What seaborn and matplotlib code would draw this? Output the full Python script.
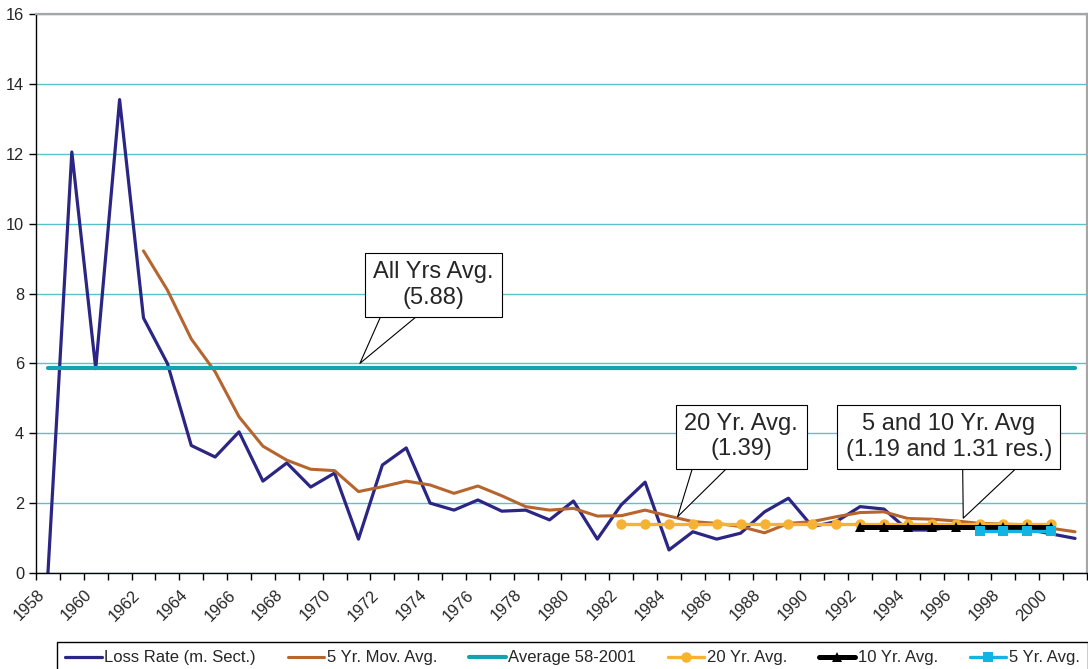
import matplotlib
matplotlib.use("Agg")
import matplotlib.pyplot as plt
import matplotlib.transforms as mtransforms
import seaborn as sns
import numpy as np

sns.set_style("white")
plt.rcParams['font.family'] = ['Liberation Sans', 'DejaVu Sans']

# data
years = list(range(1958, 2002))
loss_rate = [0.0, 12.05, 5.85, 13.55, 7.3, 6.0, 3.65, 3.32, 4.04, 2.63,
             3.15, 2.46, 2.86, 0.97, 3.09, 3.58, 2.0, 1.8, 2.09, 1.77,
             1.8, 1.52, 2.06, 0.97, 1.95, 2.6, 0.66, 1.18, 0.97, 1.14,
             1.75, 2.14, 1.33, 1.47, 1.9, 1.83, 1.23, 1.23, 1.35, 1.3,
             1.28, 1.25, 1.12, 0.99]
mov_avg_years = list(range(1962, 2002))
mov_avg_5 = [9.22, 8.1, 6.7, 5.76, 4.47, 3.63, 3.23, 2.97, 2.93, 2.33,
             2.47, 2.63, 2.52, 2.28, 2.49, 2.21, 1.9, 1.8, 1.85, 1.63,
             1.64, 1.8, 1.63, 1.47, 1.42, 1.33, 1.15, 1.42, 1.47, 1.61,
             1.73, 1.75, 1.56, 1.54, 1.49, 1.42, 1.4, 1.38, 1.28, 1.18]
avg_all = 5.88
avg_20_years = list(range(1982, 2001))
avg_20 = 1.39
avg_10_years = list(range(1992, 2001))
avg_10 = 1.31
avg_5_years = list(range(1997, 2001))
avg_5 = 1.19

fig = plt.figure(figsize=(10.88, 6.69), dpi=100)
ax = fig.add_axes([36 / 1088, 96 / 669, 1051 / 1088, 559 / 669])

ax.yaxis.grid(True, color='#5BC2C9', lw=1)
ax.set_axisbelow(True)

sns.lineplot(x=years, y=loss_rate, color='#2B2584', lw=2.3,
             label='Loss Rate (m. Sect.)', ax=ax)
sns.lineplot(x=mov_avg_years, y=mov_avg_5, color='#B5652D', lw=2.2,
             label='5 Yr. Mov. Avg.', ax=ax)
sns.lineplot(x=years, y=[avg_all] * len(years), color='#13A2B0', lw=3,
             label='Average 58-2001', ax=ax)
sns.lineplot(x=avg_20_years, y=[avg_20] * len(avg_20_years), color='#F7B233',
             lw=2.4, marker='o', markersize=7.5, markeredgewidth=0,
             label='20 Yr. Avg.', ax=ax)
sns.lineplot(x=avg_10_years, y=[avg_10] * len(avg_10_years), color='black',
             lw=3.6, marker='^', markersize=7.5, markeredgewidth=0,
             label='10 Yr. Avg.', ax=ax)
sns.lineplot(x=avg_5_years, y=[avg_5] * len(avg_5_years), color='#14B4E2',
             lw=2.4, marker='s', markersize=6.5, markeredgewidth=0,
             label='5 Yr. Avg.', ax=ax)

ax.set_xlim(1957.5, 2001.5)
ax.set_ylim(0, 16)
ax.set_yticks(range(0, 17, 2))
ax.set_xticks(range(1958, 2001, 2))
ax.set_xticklabels([str(y) for y in range(1958, 2001, 2)])
ax.set_xticks(np.arange(1957.5, 2002, 1), minor=True)
ax.tick_params(axis='x', which='major', bottom=True, length=0, pad=14, labelsize=11.8)
ax.tick_params(axis='x', which='minor', bottom=True, length=5, width=1,
               direction='out', color='black')
ax.tick_params(axis='y', left=True, length=5, width=1, direction='out',
               color='black', labelsize=11.8, pad=3.5)
ax.set_xlabel('')
ax.set_ylabel('')

offset = mtransforms.ScaledTranslation(-6 / 100, 0, fig.dpi_scale_trans)
for lab in ax.get_xticklabels():
    lab.set_rotation(45)
    lab.set_ha('right')
    lab.set_va('center')
    lab.set_rotation_mode('anchor')
    lab.set_transform(lab.get_transform() + offset)

for side in ['left', 'bottom']:
    ax.spines[side].set_color('black')
    ax.spines[side].set_linewidth(1)
for side in ['top', 'right']:
    ax.spines[side].set_color('#A6A6A6')
    ax.spines[side].set_linewidth(1.6)


def callout(text, box_xy, tip_xy, relx, tail):
    ax.annotate(text, xy=tip_xy, xytext=box_xy, ha='center', va='center',
                multialignment='center', fontsize=17,
                bbox=dict(boxstyle='square,pad=0.35', fc='white', ec='black', lw=0.8),
                arrowprops=dict(arrowstyle=f'wedge,tail_width={tail}', fc='white',
                                ec='black', lw=0.8, relpos=(relx, 0.2),
                                shrinkA=0, shrinkB=0, patchA=None))


callout('All Yrs Avg.\n(5.88)', (1974.15, 8.24), (1971.06, 6.0), 0.29, 1.6)
callout('20 Yr. Avg.\n(1.39)', (1987.03, 3.90), (1984.36, 1.61), 0.29, 1.65)
callout('5 and 10 Yr. Avg\n(1.19 and 1.31 res.)', (1995.72, 3.89), (1996.32, 1.57), 0.707, 2.7)

ax.legend(loc='upper left', bbox_to_anchor=(57 / 1088, 1 - 642 / 669),
          bbox_transform=fig.transFigure, borderaxespad=0, ncol=6,
          fontsize=12, frameon=True, fancybox=False, framealpha=1,
          edgecolor='black', borderpad=0.5, handlelength=2.2,
          handletextpad=0.15, columnspacing=1.9, numpoints=1)
ax.get_legend().get_frame().set_linewidth(1)

fig.savefig('out.png', dpi=100)
